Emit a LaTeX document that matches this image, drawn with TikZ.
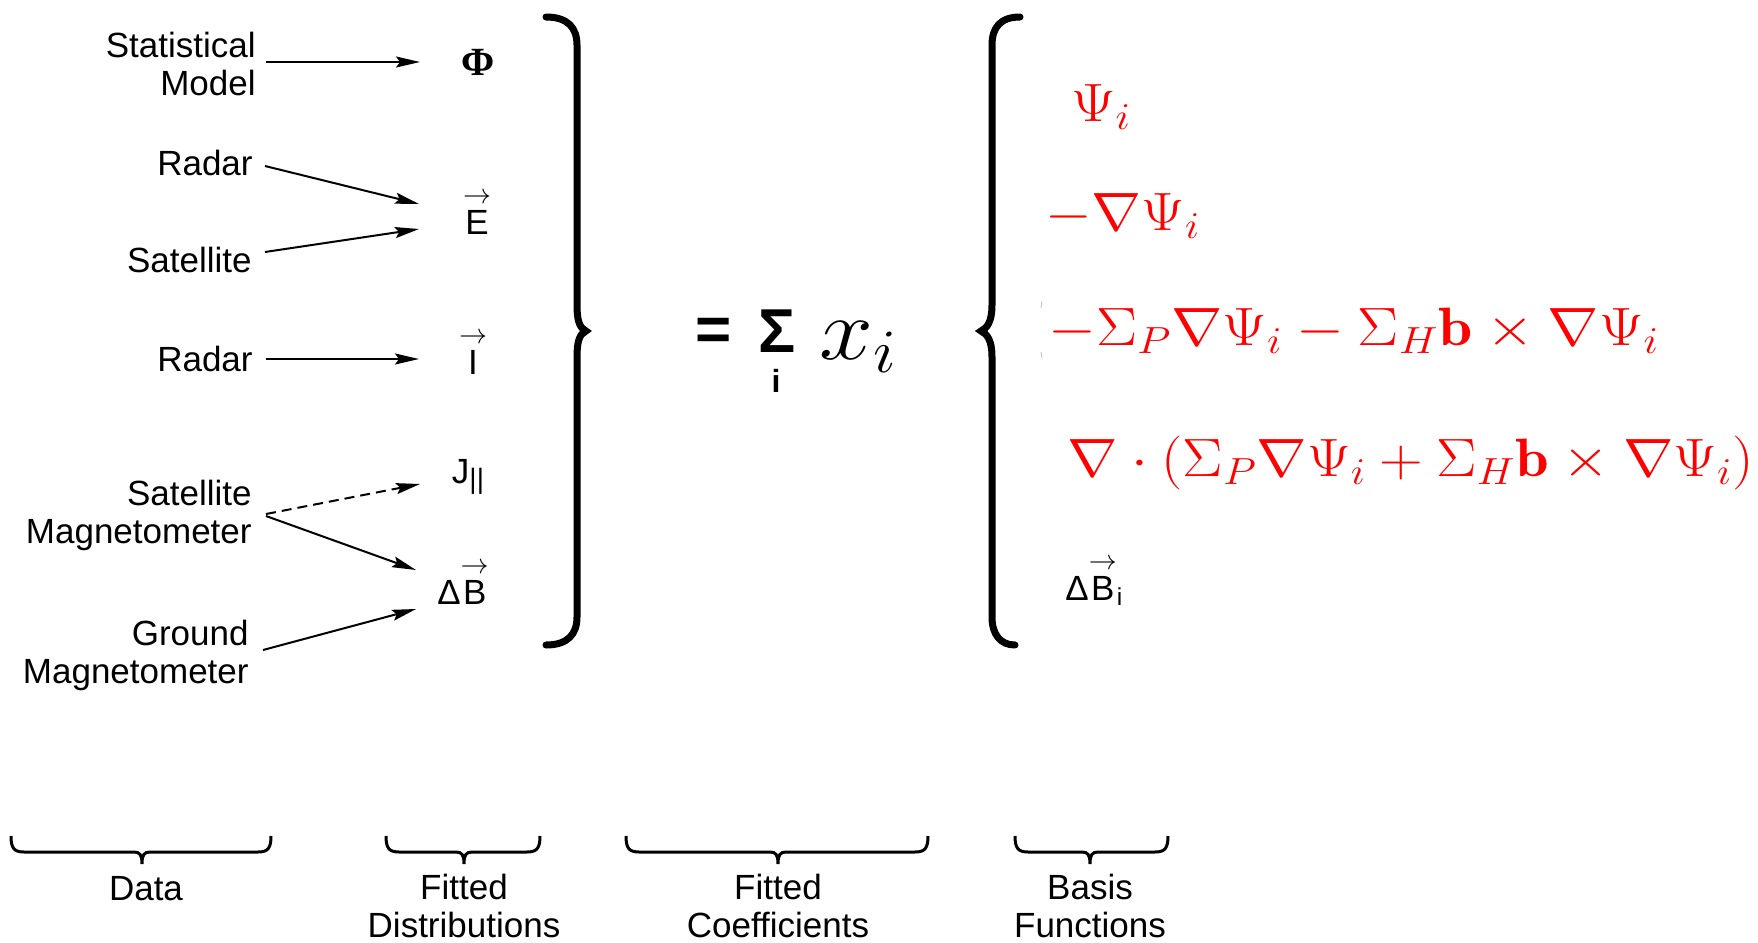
\RequirePackage{fix-cm}
\documentclass[tikz,border=0pt]{standalone}
\usepackage{amsmath}
\usepackage{fontspec}
\newfontfamily\lab{Liberation Sans}
\newfontfamily\labser{Liberation Serif}
\usetikzlibrary{arrows.meta,calc}
\definecolor{eqred}{RGB}{255,0,0}
\newcommand\vecsf[1]{\ensuremath{\overset{\hbox{\fontsize{14}{14}\selectfont$\rightarrow$}}{\hbox{#1}}}}
\newcommand\wide[1]{\scalebox{1.14}[1]{#1}}
\tikzset{
  lbl/.style={font=\lab\fontsize{17.5}{19}\selectfont, align=right, inner sep=0pt, anchor=east},
  dist/.style={font=\lab\fontsize{17.5}{19}\selectfont, inner sep=0pt},
  captxt/.style={font=\lab\fontsize{17.5}{19}\selectfont, inner sep=0pt, align=center},
  feed/.style={line width=1pt, -{Stealth[length=12pt,width=5.5pt,inset=2pt]}},
  dashfeed/.style={feed, dash pattern=on 5pt off 3pt},
  bigbrace/.style={line width=3.5pt, line cap=round},
  underbr/.style={line width=1.5pt},
  redeq/.style={text=eqred, inner sep=0pt, anchor=base west, font=\fontsize{27}{32}\selectfont},
  pics/ubr/.style n args={3}{code={
    \draw[underbr] (#1,836) .. controls (#1,848) and ({#1+3},852) .. ({#1+13},852)
      -- ({#3-8},852) .. controls ({#3-2},852) and (#3,855) .. (#3,864)
      .. controls (#3,855) and ({#3+2},852) .. ({#3+8},852)
      -- ({#2-13},852) .. controls ({#2-3},852) and (#2,848) .. (#2,836);
  }},
}
\begin{document}
\begin{tikzpicture}[x=0.5pt,y=-0.5pt]
\useasboundingbox (0,0) rectangle (1758,943);

% data labels
\node[lbl] (stat) at (256,64) {Statistical\\Model};
\node[lbl] (radarA) at (253,163) {Radar};
\node[lbl] (satA) at (252,260) {Satellite};
\node[lbl] (radarB) at (253,359) {Radar};
\node[lbl] (satmag) at (252,515) {Satellite\\Magnetometer};
\node[lbl] (grmag) at (249,655) {Ground\\Magnetometer};

% fitted distributions
\node[dist, font=\labser\bfseries\fontsize{20}{20}\selectfont] (phi) at (478,62) {Φ};
\node[dist] (E) at (477,212) {\vecsf{E}};
\node[dist] (I) at (473,352) {\vecsf{I}};
\node[dist] (J) at (468,477) {J\raisebox{-0.3ex}{\fontsize{14}{14}\selectfont ||}};
\node[dist] (dB) at (463,582) {Δ\vecsf{B}};

% connectors
\draw[feed] ($(stat.east)+(10,-2)$) -- ($(phi)+(-58,0)$);
\draw[feed] ($(radarA.east)+(12,3)$) -- ($(E)+(-58,-8)$);
\draw[feed] ($(satA.east)+(13,-8)$) -- ($(E)+(-58,17)$);
\draw[feed] ($(radarB.east)+(13,0)$) -- ($(I)+(-54,7)$);
\draw[dashfeed] ($(satmag.east)+(14,-1)$) -- ($(J)+(-48,7)$);
\draw[feed] ($(satmag.east)+(14,1)$) -- ($(dB)+(-47,-12)$);
\draw[feed] ($(grmag.east)+(14,-5)$) -- ($(dB)+(-47,27)$);

% big braces
\draw[bigbrace] (546,17) .. controls (568,17) and (577,28) .. (577,45) -- (577,305)
  .. controls (577,322) and (580,328) .. (586,331)
  .. controls (580,334) and (577,340) .. (577,357) -- (577,617)
  .. controls (577,634) and (568,645) .. (546,645);
\draw[bigbrace] (1020,17) .. controls (1000,17) and (992,28) .. (992,45) -- (992,305)
  .. controls (992,322) and (987,328) .. (981,331)
  .. controls (987,334) and (992,340) .. (992,357) -- (992,617)
  .. controls (992,634) and (1000,645) .. (1015,645);

% equation
\node[font=\lab\bfseries\fontsize{31}{31}\selectfont, inner sep=0pt] (eqs) at (714,334) {=};
\node[font=\lab\bfseries\fontsize{31}{31}\selectfont, inner sep=0pt] (sig) at (777,331) {Σ};
\node[font=\lab\bfseries\fontsize{16}{18}\selectfont, inner sep=0pt] (sidx) at (776,381) {i};
\node[inner sep=0pt, anchor=base west, font=\fontsize{44}{50}\selectfont] (xi) at (819,359) {\scalebox{1.1}[1]{$x_i$}};

% basis functions
\node[redeq] (b1) at (1071,121) {\wide{$\Psi_i$}};
\node[redeq] (b2) at (1045,230) {\scalebox{1.11}[1]{$-\nabla\Psi_i$}};
\node[redeq] (b3) at (1048,345) {\wide{$-\Sigma_P\nabla\Psi_i-\Sigma_H\mathbf{b}\times\nabla\Psi_i$}};
\node[redeq] (b4) at (1067,476) {\scalebox{1.12}[1]{$\nabla\cdot(\Sigma_P\nabla\Psi_i+\Sigma_H\mathbf{b}\times\nabla\Psi_i)$}};
\node[dist, anchor=base west] (b5) at (1065,600) {Δ\vecsf{B}\textsubscript{i}};
\draw[gray!50, line width=0.4pt] (1042,301) -- (1041,308) (1041,352) -- (1042,358);

% under braces and captions
\pic {ubr={11}{271}{142}};
\pic {ubr={386}{540}{464}};
\pic {ubr={626}{928}{778}};
\pic {ubr={1015}{1168}{1090}};
\node[captxt] (cdata) at (146,889) {Data};
\node[captxt] (cdist) at (464,906) {Fitted\\Distributions};
\node[captxt] (ccoef) at (778,906) {Fitted\\Coefficients};
\node[captxt] (cbasis) at (1090,906) {Basis\\Functions};
\end{tikzpicture}
\end{document}
